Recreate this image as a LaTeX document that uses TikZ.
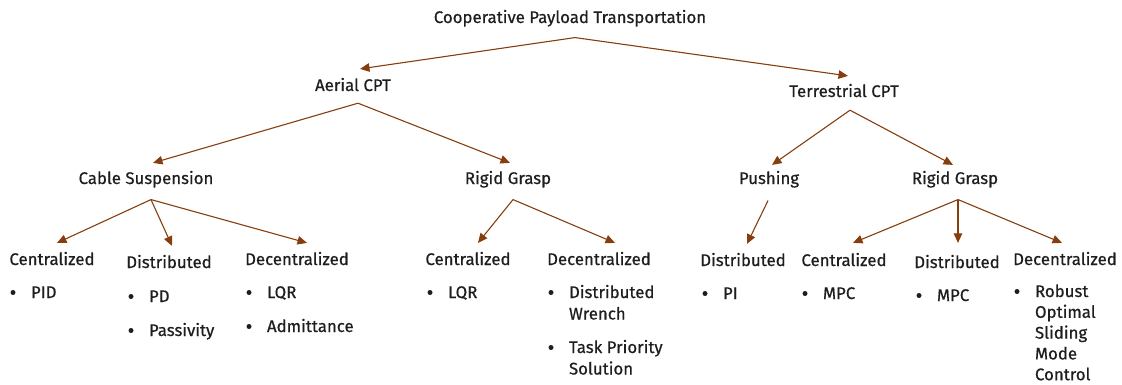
\documentclass[tikz,border=0pt]{standalone}
\usepackage{fontspec}
\setmainfont{Fira Sans}[FakeBold=0.6,AutoFakeBold=0.6]
\usetikzlibrary{arrows.meta,calc}
\definecolor{brn}{RGB}{135,62,14}
\definecolor{ink}{RGB}{30,30,30}
% lines of one bullet item, stacked; the baseline is that of the first line
\newcommand{\stack}[2][21.5pt]{\vtop{\baselineskip=#1\halign{##\hfil\cr#2\crcr}}}
\begin{document}
\begin{tikzpicture}[x=1pt,y=-1pt,
  lbl/.style={inner sep=0pt,outer sep=0pt,anchor=base,text=ink,
    font=\fontsize{16.8}{21.5}\selectfont\bfseries},
  item/.style={lbl,anchor=base west},
  br/.style={draw=brn,line width=1.1pt,
    -{Triangle[length=9.5pt,width=8.5pt]}}]
\useasboundingbox (0,0) rectangle (1122,385);

% root and first level
\node[lbl] (root) at (570,23) {Cooperative Payload Transportation};
\node[lbl] (aer) at (353,91) {Aerial CPT};
\node[lbl] (ter) at (844,97) {Terrestrial CPT};

% second level
\node[lbl] (cab) at (146,184) {Cable Suspension};
\node[lbl] (arg) at (508,184) {Rigid Grasp};
\node[lbl] (psh) at (769,184) {Pushing};
\node[lbl] (trg) at (955,184) {Rigid Grasp};

% third level: headings
\node[lbl] (c1) at (52,265) {Centralized};
\node[lbl] (d1) at (169,268) {Distributed};
\node[lbl] (z1) at (297,265) {Decentralized};
\node[lbl] (c2) at (468,265) {Centralized};
\node[lbl] (z2) at (599,265) {Decentralized};
\node[lbl] (d3) at (743,266) {Distributed};
\node[lbl] (c4) at (844,266) {Centralized};
\node[lbl] (d4) at (957,268) {Distributed};
\node[lbl] (z4) at (1065,265) {Decentralized};

% bullet items
\node[item] (i1) at (31,298) {PID};
\node[item] (i2) at (149,302) {PD};
\node[item] (i3) at (149,336) {Passivity};
\node[item] (i4) at (267,298) {LQR};
\node[item] (i5) at (267,332) {Admittance};
\node[item] (i6) at (448,298) {LQR};
\node[item] (i7) at (569,298) {\stack{Distributed\cr Wrench}};
\node[item] (i8) at (569,353) {\stack{Task Priority\cr Solution}};
\node[item] (i9) at (723,299) {PI};
\node[item] (i10) at (823,299) {MPC};
\node[item] (i11) at (937,301) {MPC};
\node[item] (i12) at (1035,297) {\stack[20.8pt]{Robust\cr Optimal\cr Sliding\cr Mode\cr Control}};

\foreach \n in {i1,i2,i3,i4,i5,i6,i7,i8,i9,i10,i11,i12}
  \fill[ink] ($(\n.base west)+(-18,-5.5)$) circle (2.5);

% connectors
\draw[br] ($(root.south)+(5,11)$) -- ($(aer.north)+(7,-9)$);
\draw[br] ($(root.south)+(5,11)$) -- ($(ter.north)+(4,-8)$);
\draw[br] ($(aer.south)+(5,12)$) -- ($(cab.north)+(7,-8)$);
\draw[br] ($(aer.south)+(5,12)$) -- ($(arg.north)+(2,-8)$);
\draw[br] ($(ter.south)+(6,13)$) -- ($(psh.north)+(3,-6)$);
\draw[br] ($(ter.south)+(6,13)$) -- ($(trg.north)+(-2,-6)$);
\draw[br] ($(cab.south)+(5,12)$) -- ($(c1.north)+(5,-9)$);
\draw[br] ($(cab.south)+(5,12)$) -- ($(d1.north)+(3,-9)$);
\draw[br] ($(cab.south)+(5,12)$) -- ($(z1.north)+(10,-9)$);
\draw[br] ($(arg.south)+(5,12)$) -- ($(c2.north)+(10,-9)$);
\draw[br] ($(arg.south)+(5,12)$) -- ($(z2.north)+(16,-9)$);
\draw[br] ($(psh.south)+(-1,13)$) -- ($(d3.north)+(4,-9)$);
\draw[br] ($(trg.south)+(3,12)$) -- ($(c4.north)+(9,-10)$);
\draw[br] ($(trg.south)+(3,12)$) -- ($(d4.north)+(1,-12)$);
\draw[br] ($(trg.south)+(3,12)$) -- ($(z4.north)+(-3,-9)$);
\end{tikzpicture}
\end{document}
